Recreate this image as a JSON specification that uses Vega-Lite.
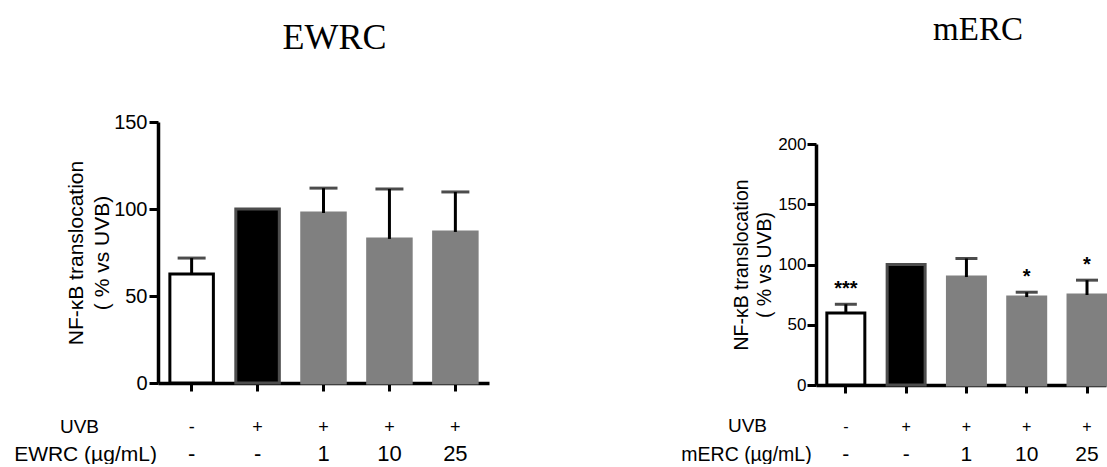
{
  "$schema": "https://vega.github.io/schema/vega-lite/v6.json",
  "padding": {"left": 13, "top": 14, "right": 0, "bottom": 0},
  "background": "white",
  "datasets": {
    "ewrc": [
      {"cond": "-,-", "mean": 62.6, "upper": 71.8, "sig": ""},
      {"cond": "+,-", "mean": 100, "upper": null, "sig": ""},
      {"cond": "+,1", "mean": 97.7, "upper": 112, "sig": ""},
      {"cond": "+,10", "mean": 82.8, "upper": 111.5, "sig": ""},
      {"cond": "+,25", "mean": 86.8, "upper": 109.8, "sig": ""}
    ],
    "merc": [
      {"cond": "-,-", "mean": 59.8, "upper": 67, "sig": "***"},
      {"cond": "+,-", "mean": 100, "upper": null, "sig": ""},
      {"cond": "+,1", "mean": 89.6, "upper": 105, "sig": ""},
      {"cond": "+,10", "mean": 73, "upper": 77, "sig": "*"},
      {"cond": "+,25", "mean": 74.7, "upper": 87, "sig": "*"}
    ]
  },
  "spacing": 191,
  "hconcat": [
    {
      "width": 331,
      "height": 261,
      "data": {"name": "ewrc"},
      "title": {"text": "EWRC", "font": "Liberation Serif", "fontSize": 36, "fontWeight": "normal", "color": "black", "frame": "group", "dx": 11, "offset": 55},
      "resolve": {"axis": {"x": "independent"}},
      "layer": [
        {
          "mark": {"type": "bar", "strokeWidth": 3},
          "encoding": {
            "x": {"field": "cond", "type": "nominal", "sort": null,
              "scale": {"paddingInner": 0.34, "paddingOuter": 0.18},
              "axis": {"orient": "bottom", "labelExpr": "split(datum.label, ',')[0]", "labelAngle": 0, "labelFontSize": 18, "labelBaseline": "alphabetic", "labelPadding": 41,
                "domainWidth": 3.5, "tickWidth": 3, "tickSize": 8,
                "title": "UVB", "titleX": -79, "titleY": 49, "titleAlign": "center", "titleBaseline": "alphabetic", "titleFontSize": 19, "titleFontWeight": "normal", "titleAngle": 0}},
            "y": {"field": "mean", "type": "quantitative",
              "scale": {"domain": [0, 150], "nice": false},
              "axis": {"values": [0, 50, 100, 150], "labelFontSize": 20, "labelPadding": 2, "tickSize": 9, "tickWidth": 3, "domainWidth": 3.5,
                "title": ["NF-κB translocation", "( % vs UVB)"], "titleFontSize": 21, "titleLineHeight": 26, "titleFontWeight": "normal", "titlePadding": 1}},
            "fill": {"field": "cond", "type": "nominal", "sort": null, "legend": null,
              "scale": {"domain": ["-,-", "+,-", "+,1", "+,10", "+,25"], "range": ["white", "black", "#808080", "#808080", "#808080"]}},
            "stroke": {"field": "cond", "type": "nominal", "sort": null, "legend": null,
              "scale": {"domain": ["-,-", "+,-", "+,1", "+,10", "+,25"], "range": ["black", "#4d4d4d", "#808080", "#808080", "#808080"]}}
          }
        },
        {
          "transform": [{"filter": "isValid(datum.upper)"}],
          "mark": {"type": "rule", "strokeWidth": 3, "color": "black"},
          "encoding": {
            "x": {"field": "cond", "type": "nominal", "sort": null,
              "axis": {"orient": "bottom", "labelExpr": "split(datum.label, ',')[1]", "labelAngle": 0, "labelFontSize": 22, "labelBaseline": "alphabetic", "labelPadding": 77,
                "domain": false, "ticks": false, "tickSize": 0,
                "title": "EWRC (µg/mL)", "titleX": -73, "titleY": 77, "titleAlign": "center", "titleBaseline": "alphabetic", "titleFontSize": 21, "titleFontWeight": "normal", "titleAngle": 0}},
            "y": {"field": "mean", "type": "quantitative"},
            "y2": {"field": "upper"}
          }
        },
        {
          "transform": [{"filter": "isValid(datum.upper)"}],
          "mark": {"type": "tick", "thickness": 3, "size": 28, "color": "black"},
          "encoding": {
            "x": {"field": "cond", "type": "nominal", "sort": null, "axis": null},
            "y": {"field": "upper", "type": "quantitative"}
          }
        }
      ]
    },
    {
      "width": 290,
      "height": 263,
      "data": {"name": "merc"},
      "title": {"text": "mERC", "font": "Liberation Serif", "fontSize": 33, "fontWeight": "normal", "color": "black", "frame": "group", "dx": 17, "offset": 75},
      "resolve": {"axis": {"x": "independent"}},
      "layer": [
        {
          "mark": {"type": "bar", "strokeWidth": 3},
          "encoding": {
            "x": {"field": "cond", "type": "nominal", "sort": null,
              "scale": {"paddingInner": 0.37, "paddingOuter": 0.09, "align": 1},
              "axis": {"orient": "bottom", "labelExpr": "split(datum.label, ',')[0]", "labelAngle": 0, "labelFontSize": 16, "labelBaseline": "alphabetic", "labelPadding": 38,
                "domainWidth": 3.5, "tickWidth": 3, "tickSize": 8,
                "title": "UVB", "titleX": -69, "titleY": 46, "titleAlign": "center", "titleBaseline": "alphabetic", "titleFontSize": 19, "titleFontWeight": "normal", "titleAngle": 0}},
            "y": {"field": "mean", "type": "quantitative",
              "scale": {"domain": [0, 200], "nice": false, "range": [263, 22]},
              "axis": {"values": [0, 50, 100, 150, 200], "labelFontSize": 17, "labelPadding": 1, "tickSize": 9, "tickWidth": 3, "domainWidth": 3.5,
                "title": ["NF-κB translocation", "( % vs UVB)"], "titleFontSize": 19.5, "titleLineHeight": 23, "titleFontWeight": "normal", "titlePadding": 3}},
            "fill": {"field": "cond", "type": "nominal", "sort": null, "legend": null,
              "scale": {"domain": ["-,-", "+,-", "+,1", "+,10", "+,25"], "range": ["white", "black", "#808080", "#808080", "#808080"]}},
            "stroke": {"field": "cond", "type": "nominal", "sort": null, "legend": null,
              "scale": {"domain": ["-,-", "+,-", "+,1", "+,10", "+,25"], "range": ["black", "#4d4d4d", "#808080", "#808080", "#808080"]}}
          }
        },
        {
          "transform": [{"filter": "isValid(datum.upper)"}],
          "mark": {"type": "rule", "strokeWidth": 3, "color": "black"},
          "encoding": {
            "x": {"field": "cond", "type": "nominal", "sort": null,
              "axis": {"orient": "bottom", "labelExpr": "split(datum.label, ',')[1]", "labelAngle": 0, "labelFontSize": 21, "labelBaseline": "alphabetic", "labelPadding": 75,
                "domain": false, "ticks": false, "tickSize": 0,
                "title": "mERC (µg/mL)", "titleX": -70, "titleY": 75, "titleAlign": "center", "titleBaseline": "alphabetic", "titleFontSize": 19.5, "titleFontWeight": "normal", "titleAngle": 0}},
            "y": {"field": "mean", "type": "quantitative"},
            "y2": {"field": "upper"}
          }
        },
        {
          "transform": [{"filter": "isValid(datum.upper)"}],
          "mark": {"type": "tick", "thickness": 3, "size": 22, "color": "black"},
          "encoding": {
            "x": {"field": "cond", "type": "nominal", "sort": null, "axis": null},
            "y": {"field": "upper", "type": "quantitative"}
          }
        },
        {
          "transform": [{"filter": "datum.sig != ''"}],
          "mark": {"type": "text", "dy": -9, "baseline": "alphabetic", "fontSize": 20, "fontWeight": "bold", "color": "black"},
          "encoding": {
            "x": {"field": "cond", "type": "nominal", "sort": null, "axis": null},
            "y": {"field": "upper", "type": "quantitative"},
            "text": {"field": "sig"}
          }
        }
      ]
    }
  ],
  "config": {
    "font": "Liberation Sans",
    "view": {"stroke": null},
    "axis": {"grid": false, "domainColor": "black", "tickColor": "black", "labelColor": "black", "titleColor": "black", "labelFont": "Liberation Sans", "titleFont": "Liberation Sans"}
  }
}
